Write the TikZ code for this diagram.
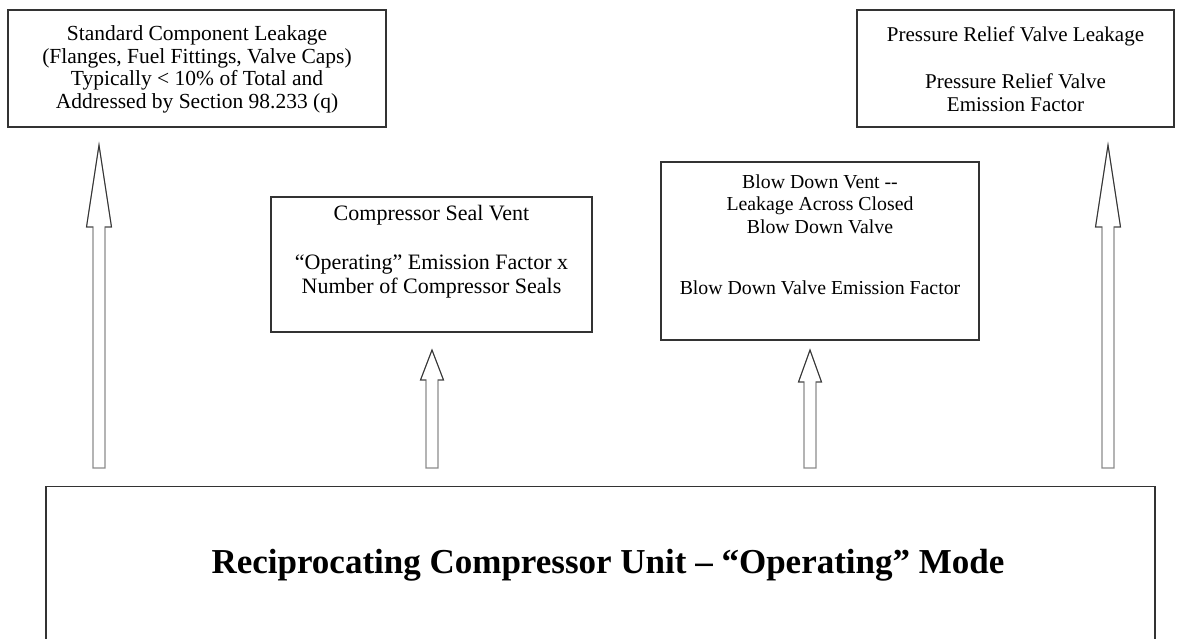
\documentclass[tikz,border=0pt]{standalone}
\usepackage{fontspec}
\setmainfont{Liberation Serif}
\usetikzlibrary{calc}
\tikzset{
  boxframe/.style={draw=black!80, line width=1.4pt, fill=white, inner sep=0pt},
  boxtext/.style={anchor=north, inner sep=0pt, align=center, font=\fontsize{21.5}{22.6}\selectfont},
  blockarr/.style={draw=black!45, line width=1.1pt, fill=white, line join=miter},
  arrhead/.style={draw=black!80, line width=0.9pt, line join=miter},
}
\newcommand\blockarrow[4]{% from, to, head length, head half width
  \path[blockarr] ($(#1)+(-6,0)$) -- ($(#2)+(-6,#3)$) -- ($(#2)+(-#4,#3)$) -- (#2)
     -- ($(#2)+(#4,#3)$) -- ($(#2)+(6,#3)$) -- ($(#1)+(6,0)$) -- cycle;
  \path[arrhead] ($(#2)+(-6,#3)$) -- ($(#2)+(-#4,#3)$) -- (#2)
     -- ($(#2)+(#4,#3)$) -- ($(#2)+(6,#3)$);}
\begin{document}
\begin{tikzpicture}[x=1pt,y=-1pt]
\useasboundingbox (0,0) rectangle (1193,638);
\clip (0,0) rectangle (1193,638);
\fill[white] (0,0) rectangle (1193,638);

% upper boxes
\node[boxframe, minimum width=378pt, minimum height=117pt] (std) at (197,68.5) {};
\node[boxtext] (stdt) at ($(std.north)+(0,16)$) {Standard Component Leakage\\(Flanges, Fuel Fittings, Valve Caps)\\Typically {<} 10\% of Total and\\Addressed by Section 98.233 (q)};

\node[boxframe, minimum width=317pt, minimum height=117pt] (prv) at (1015.5,68.5) {};
\node[boxtext, font=\fontsize{21}{23}\selectfont] (prvt) at ($(prv.north)+(0,17)$) {Pressure Relief Valve Leakage\\[24pt]Pressure Relief Valve\\Emission Factor};

\node[boxframe, minimum width=321pt, minimum height=135pt] (seal) at (431.5,264.5) {};
\node[boxtext, font=\fontsize{22}{24}\selectfont] (sealt) at ($(seal.north)+(0,9)$) {Compressor Seal Vent\\[25pt]“Operating” Emission Factor x\\Number of Compressor Seals};

\node[boxframe, minimum width=318pt, minimum height=178pt] (bdv) at (820,251) {};
\node[boxtext, font=\fontsize{19.8}{22.5}\selectfont] (bdvt) at ($(bdv.north)+(0,13)$) {Blow Down Vent -{}-\\Leakage Across Closed\\Blow Down Valve\\[39pt]Blow Down Valve Emission Factor};

% bottom unit
\node[boxframe, minimum width=1109pt, minimum height=180pt, anchor=north] (unit) at (600.5,486) {};
\node[inner sep=0pt, font=\fontsize{35}{40}\bfseries\selectfont] (unitt) at (608,565) {Reciprocating Compressor Unit – “Operating” Mode};

% arrows
\coordinate (a1b) at (99,468);   \coordinate (a1t) at (99,145);
\coordinate (a2b) at (432,468);  \coordinate (a2t) at (432,350);
\coordinate (a3b) at (810,468);  \coordinate (a3t) at (810,350);
\coordinate (a4b) at (1108,468); \coordinate (a4t) at (1108,145);
\blockarrow{a1b}{a1t}{82}{12.5}
\blockarrow{a2b}{a2t}{30}{11.5}
\blockarrow{a3b}{a3t}{32}{11.5}
\blockarrow{a4b}{a4t}{82}{12.5}
\end{tikzpicture}
\end{document}
